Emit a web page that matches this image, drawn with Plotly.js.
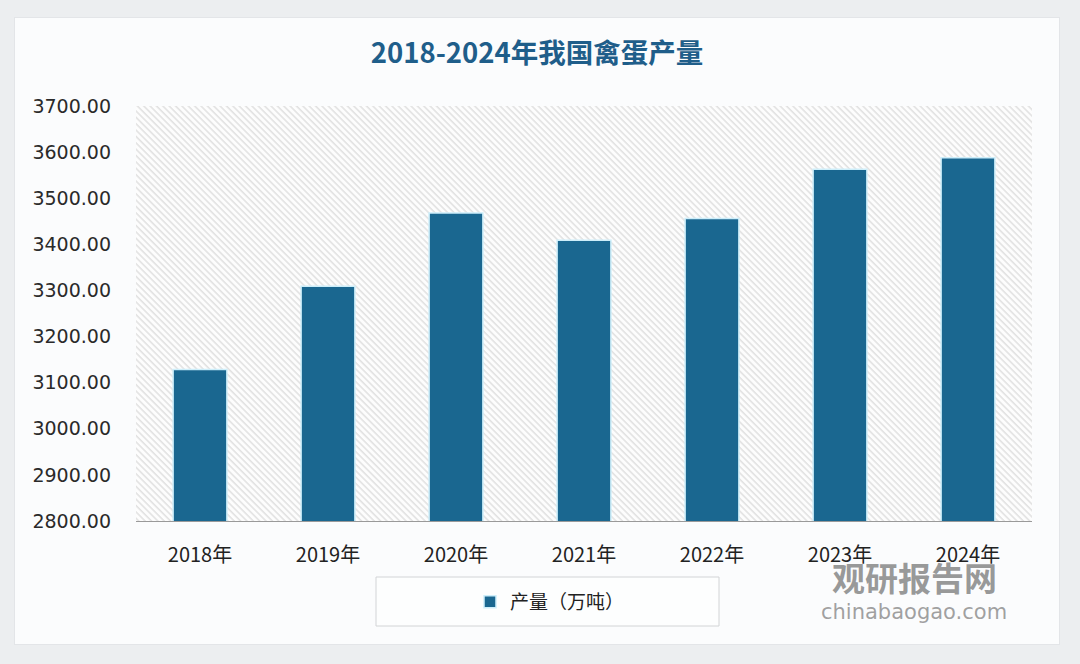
<!DOCTYPE html>
<html>
<head>
<meta charset="utf-8">
<script src="https://cdn.plot.ly/plotly-3.0.1.min.js"></script>
<style>html,body{margin:0;padding:0;background:#eceef0;}#chart{width:1080px;height:664px;}</style>
</head>
<body>
<div id="chart"></div>
<script>
// ---- data ----
const years = ['2018年', '2019年', '2020年', '2021年', '2022年', '2023年', '2024年'];
const output = [3128.3, 3309.0, 3468.0, 3409.0, 3456.0, 3563.0, 3588.0];
const seriesName = '产量（万吨）';
const chartTitle = '2018-2024年我国禽蛋产量';
const yTicks = [2800, 2900, 3000, 3100, 3200, 3300, 3400, 3500, 3600, 3700];

// ---- layout geometry ----
const W = 1080, H = 664;
const M = {l: 136, r: 48, t: 106, b: 143};
const PW = W - M.l - M.r, PH = H - M.t - M.b;
const px = x => (x - M.l) / PW;
const py = y => (H - M.b - y) / PH;

function svgURI(s) { return 'data:image/svg+xml;charset=utf-8,' + encodeURIComponent(s); }

const cardSvg = '<svg xmlns="http://www.w3.org/2000/svg" width="1046" height="628">' +
  '<rect x="0.5" y="0.5" width="1045" height="627" fill="#fbfcfd" stroke="#e3e5e8" stroke-width="1"/></svg>';
const hatchSvg = '<svg xmlns="http://www.w3.org/2000/svg" width="' + PW + '" height="' + PH + '">' +
  '<defs><pattern id="p" width="4.5" height="4.5" patternUnits="userSpaceOnUse" patternTransform="rotate(-45)">' +
  '<rect width="4.5" height="4.5" fill="#fdfdfd"/>' +
  '<line x1="1" y1="0" x2="1" y2="4.5" stroke="#e1e1e1" stroke-width="1.5"/></pattern></defs>' +
  '<rect width="' + PW + '" height="' + PH + '" fill="url(#p)"/></svg>';

const trace = {
  type: 'bar',
  x: years,
  y: output,
  name: seriesName,
  width: 0.42,
  marker: {color: '#1a6790', line: {color: '#cdeefa', width: 1.5}},
  showlegend: true,
  hoverinfo: 'x+y'
};

const layout = {
  width: W, height: H,
  margin: M,
  paper_bgcolor: '#eceef0',
  plot_bgcolor: 'rgba(0,0,0,0)',
  font: {family: '"Noto Sans CJK SC", "DejaVu Sans", sans-serif', color: '#222'},
  title: {
    text: '<b>' + chartTitle + '</b>',
    font: {family: '"Noto Sans CJK SC", sans-serif', size: 27.5, color: '#1f5e8a'},
    x: px(537), xref: 'paper', xanchor: 'center',
    y: 1 - 53 / H, yref: 'container', yanchor: 'middle'
  },
  xaxis: {
    type: 'category',
    showline: true, linecolor: '#9a9a9a', linewidth: 1,
    showgrid: false, zeroline: false, ticks: '',
    ticklabelstandoff: 16,
    tickfont: {family: '"Liberation Sans Narrow", "Noto Sans CJK SC", sans-serif', size: 20, color: '#222'}
  },
  yaxis: {
    range: [2800, 3700],
    tickvals: yTicks,
    tickformat: '.2f',
    showline: false, showgrid: false, zeroline: false, ticks: '',
    ticklabelstandoff: 24,
    tickfont: {family: '"DejaVu Sans", sans-serif', size: 19, color: '#2a2a2a'}
  },
  showlegend: true,
  legend: {
    orientation: 'h',
    x: px(550), xanchor: 'center',
    y: py(602), yanchor: 'middle',
    bgcolor: 'rgba(0,0,0,0)',
    font: {family: '"Noto Sans CJK SC", sans-serif', size: 19, color: '#222'},
    itemwidth: 30
  },
  images: [
    {source: svgURI(cardSvg), xref: 'paper', yref: 'paper', x: px(14), y: py(17),
     sizex: 1046 / PW, sizey: 628 / PH, sizing: 'stretch', xanchor: 'left', yanchor: 'top', layer: 'below'},
    {source: svgURI(hatchSvg), xref: 'paper', yref: 'paper', x: 0, y: 1,
     sizex: 1, sizey: 1, sizing: 'stretch', xanchor: 'left', yanchor: 'top', layer: 'below'}
  ],
  shapes: [
    {type: 'rect', xref: 'paper', yref: 'paper', x0: px(376), x1: px(719), y0: py(626), y1: py(577),
     line: {color: '#d2d4d6', width: 1}, fillcolor: 'rgba(255,255,255,0.6)', layer: 'below'}
  ],
  annotations: [
    {text: '<b>观研报告网</b>', xref: 'paper', yref: 'paper', x: px(914), y: py(577),
     xanchor: 'center', yanchor: 'middle', showarrow: false,
     font: {family: '"Noto Sans CJK SC", sans-serif', size: 33, color: 'rgba(120,120,120,0.75)'}},
    {text: 'chinabaogao.com', xref: 'paper', yref: 'paper', x: px(914), y: py(612),
     xanchor: 'center', yanchor: 'middle', showarrow: false,
     font: {family: '"DejaVu Sans", sans-serif', size: 21, color: 'rgba(130,130,130,0.75)'}}
  ]
};

Plotly.newPlot('chart', [trace], layout, {displayModeBar: false, staticPlot: true});
</script>
</body>
</html>
